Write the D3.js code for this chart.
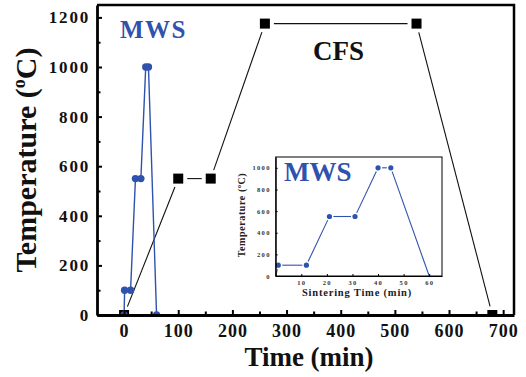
<!DOCTYPE html>
<html>
<head>
<meta charset="utf-8">
<script src="https://cdn.jsdelivr.net/npm/d3@7"></script>
<style>
  body { margin: 0; background: #fff; }
  svg { display: block; }
  text { font-family: "Liberation Serif", "Times New Roman", serif; font-weight: bold; }
</style>
</head>
<body>
<div id="chart"></div>
<script>
// conventional furnace sintering (black squares)
const cfsTime = [0, 100, 160, 260, 540, 680];
const cfsTemp = [0, 550, 550, 1175, 1175, 0];

// microwave sintering (blue circles)
const mwsTime = [0, 1, 12, 21, 31, 40, 45, 60];
const mwsTemp = [0, 100, 100, 550, 550, 1000, 1000, 0];

const xTicks = [0, 100, 200, 300, 400, 500, 600, 700];
const yTicks = [0, 200, 400, 600, 800, 1000, 1200];
const insetXTicks = [10, 20, 30, 40, 50, 60];
const insetYTicks = [0, 200, 400, 600, 800, 1000];

const width = 526, height = 377;
const blue = "#2f52ad";
const serif = '"Liberation Serif", "Times New Roman", serif';

const svg = d3.select("#chart").append("svg")
    .attr("width", width)
    .attr("height", height);

// main plot area
const frame = {left: 97, right: 514, top: 5, bottom: 315};

const x = d3.scaleLinear().domain([-50, 720]).range([frame.left, frame.right]);
const y = d3.scaleLinear().domain([0, 1250]).range([frame.bottom, frame.top]);

svg.append("clipPath").attr("id", "clip-main")
  .append("rect")
    .attr("x", frame.left).attr("y", frame.top)
    .attr("width", frame.right - frame.left)
    .attr("height", frame.bottom - frame.top);

// line segments with a small gap next to each symbol (origin style)
// hasMark(i) tells whether point i carries a symbol
const gapSegments = (xs, ys, sx, sy, gap, hasMark) => {
  const segs = [];
  for (let i = 0; i < xs.length - 1; i++) {
    const x1 = sx(xs[i]), y1 = sy(ys[i]), x2 = sx(xs[i + 1]), y2 = sy(ys[i + 1]);
    const g1 = hasMark(i) ? gap : 0, g2 = hasMark(i + 1) ? gap : 0;
    const len = Math.hypot(x2 - x1, y2 - y1);
    if (len <= g1 + g2) continue;
    const ux = (x2 - x1) / len, uy = (y2 - y1) / len;
    segs.push([x1 + ux * g1, y1 + uy * g1, x2 - ux * g2, y2 - uy * g2]);
  }
  return segs;
};

const plot = svg.append("g").attr("clip-path", "url(#clip-main)");

// CFS line + squares
plot.append("g")
  .selectAll("line")
  .data(gapSegments(cfsTime, cfsTemp, x, y, 9, () => true))
  .join("line")
    .attr("x1", d => d[0]).attr("y1", d => d[1])
    .attr("x2", d => d[2]).attr("y2", d => d[3])
    .attr("stroke", "#111")
    .attr("stroke-width", 1.1);

plot.append("g")
  .selectAll("rect")
  .data(cfsTime.map((t, i) => [t, cfsTemp[i]]))
  .join("rect")
    .attr("x", d => x(d[0]) - 5)
    .attr("y", d => y(d[1]) - 5)
    .attr("width", 10)
    .attr("height", 10)
    .attr("fill", "#000");

// MWS line + circles
plot.append("path")
    .datum(mwsTime.map((t, i) => [t, mwsTemp[i]]))
    .attr("fill", "none")
    .attr("stroke", blue)
    .attr("stroke-width", 1.4)
    .attr("d", d3.line().x(d => x(d[0])).y(d => y(d[1])));

plot.append("g")
  .selectAll("circle")
  .data(mwsTime.map((t, i) => [t, mwsTemp[i]]))
  .join("circle")
    .attr("cx", d => x(d[0]))
    .attr("cy", d => y(d[1]))
    .attr("r", 3.7)
    .attr("fill", blue);

// frame (top + right)
svg.append("path")
    .attr("d", `M${frame.left},${frame.top}H${frame.right}V${frame.bottom}`)
    .attr("fill", "none")
    .attr("stroke", "#000")
    .attr("stroke-width", 2.5);

// axes, ticks pointing inward
const fmt = d3.format("d");
const xAxis = svg.append("g")
    .attr("transform", `translate(0,${frame.bottom})`)
    .call(d3.axisBottom(x).tickValues(xTicks).tickFormat(fmt).tickSize(-5).tickPadding(9).tickSizeOuter(0));
svg.append("g")
    .attr("transform", `translate(0,${frame.bottom})`)
    .call(d3.axisBottom(x).tickValues(d3.range(50, 700, 100)).tickSize(-3.5).tickFormat("").tickSizeOuter(0))
    .call(g => g.select(".domain").remove());

const yAxis = svg.append("g")
    .attr("transform", `translate(${frame.left},0)`)
    .call(d3.axisLeft(y).tickValues(yTicks).tickFormat(fmt).tickSize(-5).tickPadding(7).tickSizeOuter(0));
svg.append("g")
    .attr("transform", `translate(${frame.left},0)`)
    .call(d3.axisLeft(y).tickValues(d3.range(100, 1200, 200)).tickSize(-3.5).tickFormat("").tickSizeOuter(0))
    .call(g => g.select(".domain").remove());

svg.selectAll(".tick line").attr("stroke", "#000").attr("stroke-width", 2);
[xAxis, yAxis].forEach(g => {
  g.attr("font-family", serif).attr("font-weight", "bold");
  g.select(".domain").attr("stroke", "#000").attr("stroke-width", 2.8);
  g.selectAll(".tick text").attr("fill", "#111");
});
xAxis.attr("font-size", 18).selectAll(".tick text").attr("letter-spacing", 1);
yAxis.attr("font-size", 17).selectAll(".tick text").attr("letter-spacing", 1.8);

// axis titles
svg.append("text")
    .attr("x", 309)
    .attr("y", 366)
    .attr("text-anchor", "middle")
    .attr("font-size", 27)
    .attr("fill", "#111")
    .text("Time (min)");

const yTitle = svg.append("text")
    .attr("transform", "translate(36,160) rotate(-90)")
    .attr("text-anchor", "middle")
    .attr("font-size", 30)
    .attr("fill", "#111");
yTitle.append("tspan").text("Temperature (");
yTitle.append("tspan").attr("font-size", 18).attr("dy", -11).text("o");
yTitle.append("tspan").attr("dy", 11).text("C)");

// labels inside the plot
svg.append("text")
    .attr("x", 120)
    .attr("y", 38)
    .attr("font-size", 25)
    .attr("letter-spacing", 1.5)
    .attr("fill", blue)
    .text("MWS");

svg.append("text")
    .attr("x", 313)
    .attr("y", 60)
    .attr("font-size", 27)
    .attr("fill", "#111")
    .text("CFS");

// ---- inset ----
const inset = {left: 275.7, right: 442, top: 157, bottom: 276};
const ix = d3.scaleLinear().domain([0, 65]).range([inset.left, inset.right]);
const iy = d3.scaleLinear().domain([0, 1100]).range([inset.bottom, inset.top]);
const insetMark = i => i > 0 && i < mwsTime.length - 1;

svg.append("rect")
    .attr("x", inset.left)
    .attr("y", inset.top)
    .attr("width", inset.right - inset.left)
    .attr("height", inset.bottom - inset.top)
    .attr("fill", "#fff");

svg.append("g")
  .selectAll("line")
  .data(gapSegments(mwsTime, mwsTemp, ix, iy, 4, insetMark))
  .join("line")
    .attr("x1", d => d[0]).attr("y1", d => d[1])
    .attr("x2", d => d[2]).attr("y2", d => d[3])
    .attr("stroke", blue)
    .attr("stroke-width", 1.1);

svg.append("g")
  .selectAll("circle")
  .data(mwsTime.map((t, i) => [t, mwsTemp[i]]).filter((d, i) => insetMark(i)))
  .join("circle")
    .attr("cx", d => ix(d[0]))
    .attr("cy", d => iy(d[1]))
    .attr("r", 2.6)
    .attr("fill", blue);

svg.append("rect")
    .attr("x", inset.left)
    .attr("y", inset.top)
    .attr("width", inset.right - inset.left)
    .attr("height", inset.bottom - inset.top)
    .attr("fill", "none")
    .attr("stroke", "#000")
    .attr("stroke-width", 1);

const ixAxis = svg.append("g")
    .attr("transform", `translate(0,${inset.bottom})`)
    .call(d3.axisBottom(ix).tickValues(insetXTicks).tickFormat(fmt).tickSize(-2).tickPadding(4).tickSizeOuter(0));
const iyAxis = svg.append("g")
    .attr("transform", `translate(${inset.left},0)`)
    .call(d3.axisLeft(iy).tickValues(insetYTicks).tickFormat(fmt).tickSize(-2).tickPadding(5).tickSizeOuter(0));
[ixAxis, iyAxis].forEach(g => {
  g.attr("font-family", serif).attr("font-weight", "bold").attr("font-size", 6.5);
  g.select(".domain").attr("stroke", "#000").attr("stroke-width", 1);
  g.selectAll(".tick line").attr("stroke", "#000");
  g.selectAll(".tick text").attr("fill", "#333").attr("letter-spacing", 1.3);
});

svg.append("text")
    .attr("x", 357)
    .attr("y", 296)
    .attr("text-anchor", "middle")
    .attr("font-size", 10.5)
    .attr("letter-spacing", 0.8)
    .attr("fill", "#222")
    .text("Sintering Time (min)");

const iyTitle = svg.append("text")
    .attr("transform", "translate(245,215) rotate(-90)")
    .attr("text-anchor", "middle")
    .attr("font-size", 10)
    .attr("letter-spacing", 0.6)
    .attr("fill", "#222");
iyTitle.append("tspan").text("Temperature (");
iyTitle.append("tspan").attr("font-size", 6).attr("dy", -4).text("o");
iyTitle.append("tspan").attr("dy", 4).text("C)");

svg.append("text")
    .attr("x", 284)
    .attr("y", 181)
    .attr("font-size", 27)
    .attr("fill", blue)
    .text("MWS");
</script>
</body>
</html>
